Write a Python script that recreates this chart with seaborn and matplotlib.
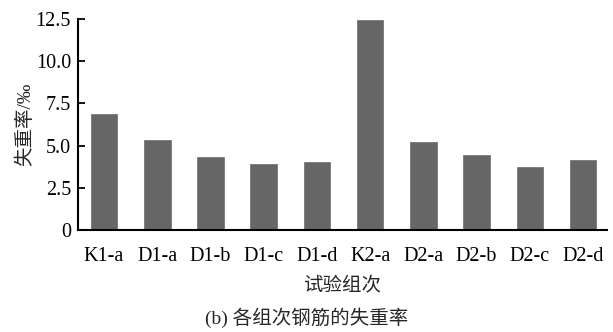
import matplotlib
matplotlib.use("Agg")
import matplotlib.pyplot as plt
import seaborn as sns
import pandas as pd

groups = ["K1-a", "D1-a", "D1-b", "D1-c", "D1-d", "K2-a", "D2-a", "D2-b", "D2-c", "D2-d"]
loss_rate = [6.87, 5.31, 4.32, 3.89, 4.03, 12.46, 5.23, 4.44, 3.73, 4.13]
y_ticks = [0, 2.5, 5.0, 7.5, 10.0, 12.5]
y_tick_labels = ["0", "2.5", "5.0", "7.5", "10.0", "12.5"]

sns.set_style("ticks")
# Latin text in a Times-like serif, Chinese characters fall through to Noto CJK
plt.rcParams["font.family"] = ["Liberation Serif", "Noto Sans CJK SC", "DejaVu Sans"]

df = pd.DataFrame({"group": groups, "rate": loss_rate})

fig = plt.figure(figsize=(6.13, 3.32), dpi=100)
ax = fig.add_axes([0.1272, 0.3072, 0.8630, 0.6356])

sns.barplot(data=df, x="group", y="rate", color="#666666", saturation=1,
            width=0.5, edgecolor="#777777", linewidth=0.6, ax=ax)

ax.set_xlim(-0.49, 9.45)
ax.set_ylim(0, 12.5)
ax.set_yticks(y_ticks)
ax.set_yticklabels(y_tick_labels)
ax.tick_params(axis="both", direction="in", length=5, width=1.3, labelsize=14.5,
               colors="black", pad=5)
ax.tick_params(axis="x", pad=12)
for s in ["top", "right"]:
    ax.spines[s].set_visible(False)
for s in ["left", "bottom"]:
    ax.spines[s].set_linewidth(1.5)
    ax.spines[s].set_color("black")

ax.set_xlabel("试验组次", fontsize=14, labelpad=8)
ax.set_ylabel("失重率/‰", fontsize=14, labelpad=1)

fig.text(0.5, 0.042, "(b) 各组次钢筋的失重率", fontsize=14,
         ha="center", va="center")

fig.savefig("out.png", dpi=100)
